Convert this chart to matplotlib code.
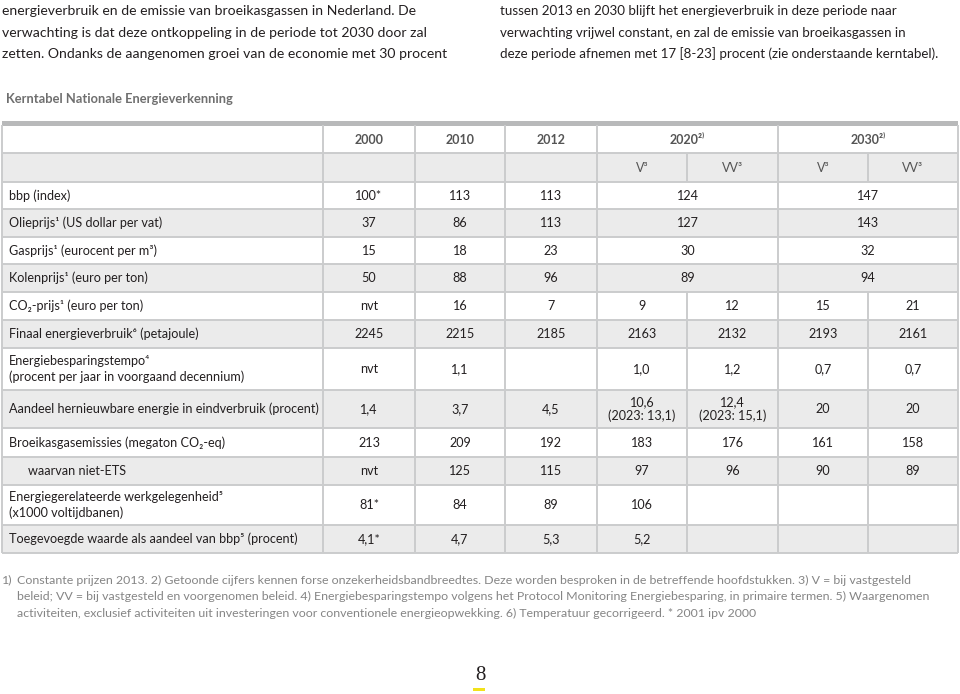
import matplotlib.pyplot as plt
from matplotlib.patches import Rectangle

plt.rcParams['font.family'] = ['Lato', 'DejaVu Sans']

# ---- data ----
intro_left = ["energieverbruik en de emissie van broeikasgassen in Nederland. De",
              "verwachting is dat deze ontkoppeling in de periode tot 2030 door zal",
              "zetten. Ondanks de aangenomen groei van de economie met 30 procent"]
intro_right = ["tussen 2013 en 2030 blijft het energieverbruik in deze periode naar",
               "verwachting vrijwel constant, en zal de emissie van broeikasgassen in",
               "deze periode afnemen met 17 [8-23] procent (zie onderstaande kerntabel)."]
title = "Kerntabel Nationale Energieverkenning"

years = ["2000", "2010", "2012", "2020²⁾", "2030²⁾"]
scenarios = ["V³", "VV³", "V³", "VV³"]

labels = ["bbp (index)",
          "Olieprijs¹ (US dollar per vat)",
          "Gasprijs¹ (eurocent per m³)",
          "Kolenprijs¹ (euro per ton)",
          "CO₂-prijs¹ (euro per ton)",
          "Finaal energieverbruik⁶ (petajoule)",
          "Energiebesparingstempo⁴\n(procent per jaar in voorgaand decennium)",
          "Aandeel hernieuwbare energie in eindverbruik (procent)",
          "Broeikasgasemissies (megaton CO₂-eq)",
          "waarvan niet-ETS",
          "Energiegerelateerde werkgelegenheid⁵\n(x1000 voltijdbanen)",
          "Toegevoegde waarde als aandeel van bbp⁵ (procent)"]
indented = [False] * 9 + [True, False, False]

# None = merged with the cell to the left
v2000 = ["100*", "37", "15", "50", "nvt", "2245", "nvt", "1,4", "213", "nvt", "81*", "4,1*"]
v2010 = ["113", "86", "18", "88", "16", "2215", "1,1", "3,7", "209", "125", "84", "4,7"]
v2012 = ["113", "113", "23", "96", "7", "2185", "", "4,5", "192", "115", "89", "5,3"]
v2020_v = ["124", "127", "30", "89", "9", "2163", "1,0", "10,6\n(2023: 13,1)", "183", "97", "106", "5,2"]
v2020_vv = [None, None, None, None, "12", "2132", "1,2", "12,4\n(2023: 15,1)", "176", "96", "", ""]
v2030_v = ["147", "143", "32", "94", "15", "2193", "0,7", "20", "161", "90", "", ""]
v2030_vv = [None, None, None, None, "21", "2161", "0,7", "20", "158", "89", "", ""]

footnotes = ["Constante prijzen 2013. 2) Getoonde cijfers kennen forse onzekerheidsbandbreedtes. Deze worden besproken in de betreffende hoofdstukken. 3) V = bij vastgesteld",
             "beleid; VV = bij vastgesteld en voorgenomen beleid. 4) Energiebesparingstempo volgens het Protocol Monitoring Energiebesparing, in primaire termen. 5) Waargenomen",
             "activiteiten, exclusief activiteiten uit investeringen voor conventionele energieopwekking. 6) Temperatuur gecorrigeerd. * 2001 ipv 2000"]
page = "8"

# ---- layout (pixels) ----
col_x = [2, 323, 415, 505, 597, 687, 778, 868, 958]
head_y = [125, 153, 182]
row_y = [182, 209, 237, 264, 292, 320, 348, 390, 428, 457, 485, 525, 553]
GRAY = "#ebebeb"
LINE = "#cbcccd"
TXT = "#231f20"

fig = plt.figure(figsize=(9.6, 6.94), dpi=100)
ax = fig.add_axes([0, 0, 1, 1])
ax.set_xlim(0, 960)
ax.set_ylim(694, 0)
ax.axis('off')

for i, line in enumerate(intro_left):
    ax.text(2, 11 + i * 21.5, line, fontsize=10.1, color=TXT, va='center')
for i, line in enumerate(intro_right):
    ax.text(500, 11 + i * 21.5, line, fontsize=9.6, color=TXT, va='center')

ax.text(6, 99, title, fontsize=9.3, color="#6f6f6f", weight='bold', va='center')

# backgrounds
ax.add_patch(Rectangle((col_x[0], head_y[1]), col_x[-1] - col_x[0], head_y[2] - head_y[1],
                       color=GRAY, lw=0))
for r in range(len(labels)):
    if r % 2 == 1:
        ax.add_patch(Rectangle((col_x[0], row_y[r]), col_x[-1] - col_x[0],
                               row_y[r + 1] - row_y[r], color=GRAY, lw=0))

# horizontal lines
for y in head_y[1:] + row_y[1:]:
    ax.plot([col_x[0], col_x[-1]], [y, y], color=LINE, lw=1.4, solid_capstyle='butt')
ax.add_patch(Rectangle((col_x[0], 121), col_x[-1] - col_x[0], 4.5, color="#b8b9ba", lw=0))

# vertical lines
columns = [v2000, v2010, v2012, v2020_v, v2020_vv, v2030_v, v2030_vv]
for x in col_x:
    if x in (col_x[5], col_x[7]):
        continue
    ax.plot([x, x], [head_y[0], row_y[-1]], color=LINE, lw=1.4, solid_capstyle='butt')
for ci in (4, 6):
    x = col_x[ci + 1]
    ax.plot([x, x], [head_y[1], head_y[2]], color=LINE, lw=1.4, solid_capstyle='butt')
    for r in range(len(labels)):
        if columns[ci][r] is not None:
            ax.plot([x, x], [row_y[r], row_y[r + 1]], color=LINE, lw=1.4, solid_capstyle='butt')

# header
year_spans = [(1, 2), (2, 3), (3, 4), (4, 6), (6, 8)]
for yr, (a, b) in zip(years, year_spans):
    ax.text((col_x[a] + col_x[b]) / 2, (head_y[0] + head_y[1]) / 2 + 1, yr,
            fontsize=9, color="#555555", weight='bold', ha='center', va='center')
for k, sc in enumerate(scenarios):
    ax.text((col_x[4 + k] + col_x[5 + k]) / 2, (head_y[1] + head_y[2]) / 2, sc,
            fontsize=9, color="#555555", ha='center', va='center')

# body
for r, lab in enumerate(labels):
    yc = (row_y[r] + row_y[r + 1]) / 2
    ax.text(28 if indented[r] else 9, yc, lab, fontsize=9.05, color=TXT,
            va='center', linespacing=1.25)
    for ci, col in enumerate(columns):
        val = col[r]
        if val is None or val == "":
            continue
        right = ci + 2
        if ci + 1 < len(columns) and columns[ci + 1][r] is None:
            right = ci + 3
        xc = (col_x[ci + 1] + col_x[right]) / 2
        ax.text(xc, yc, val, fontsize=9.05, color=TXT, ha='center', va='center',
                linespacing=1.2)

# footnotes
FN = "#858585"
ax.text(2, 580, "1)", fontsize=8.9, color=FN, va='center')
for i, line in enumerate(footnotes):
    ax.text(17, 580 + i * 16.5, line, fontsize=8.9, color=FN, va='center')

ax.text(480, 675, page, fontsize=15, color=TXT, ha='center', va='center',
        family=['Liberation Serif', 'DejaVu Serif'])
ax.add_patch(Rectangle((473, 688), 12, 3, color="#f2e21a", lw=0))

fig.savefig("out.png", dpi=100)
